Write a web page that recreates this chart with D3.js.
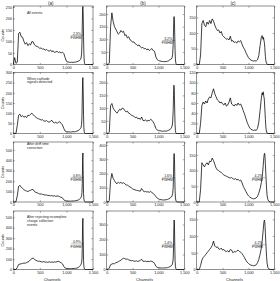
<!DOCTYPE html>
<html>
<head>
<meta charset="UTF-8">
<title>Spectra</title>
<script src="https://d3js.org/d3.v7.min.js"></script>
<style>
body{margin:0;background:#fff;}
text{font-family:"Liberation Sans",Arial,sans-serif;fill:#222;}
</style>
</head>
<body>
<script>
var W=280,H=281;

// channel axis (finer steps around the photopeak)
var channels=[0,25,50,75,100,125,150,175,200,225,250,275,300,325,350,375,400,425,450,475,
  500,525,550,575,600,625,650,675,700,725,750,775,800,825,850,875,900,925,950,975,
  1000,1025,1050,1075,1100,1125,1150,1175,1200,1225,
  1250,1265,1275,1285,1292,1298,1304,1310,1316,1322,1328,1335,1342,1350,1360,1375,1400,1430,1460,1500];
var xTicks=[0,500,1000,1500];
var colNames=["(a)","(b)","(c)"];

// row 1: all events
var a1=[0,30,5,10,135,140,120,118,100,88,95,82,90,85,100,98,85,80,78,75,70,72,66,68,62,66,60,58,63,55,60,52,55,57,52,55,50,54,48,30,14,11,10,9,10,9,10,11,12,15,
  18,22,28,45,90,170,240,252,210,120,50,15,5,1,0,0,0,0,0,0];
var b1=[0,0,5,150,205,170,150,140,130,120,125,135,128,132,115,118,105,110,98,95,88,90,82,80,74,78,70,66,68,62,64,58,62,55,60,63,55,52,30,20,16,14,13,12,12,11,12,13,15,20,
  22,28,40,80,140,185,190,165,110,55,22,8,2,0,0,0,0,0,0,0];
var c1=[0,0,0,30,130,140,125,120,135,128,140,130,145,138,125,115,108,110,100,105,92,88,85,80,82,78,90,74,76,70,72,68,75,72,76,65,55,48,38,30,22,17,14,12,11,12,11,15,28,60,
  88,92,84,80,86,78,74,66,55,40,26,15,8,4,1,0,0,0,0,0];
// row 2: cathode signals detected
var a2=[0,0,0,40,90,95,82,88,80,85,78,90,88,95,100,92,85,80,75,72,70,66,68,62,60,64,58,56,60,65,55,52,56,50,55,58,50,42,25,12,9,8,8,7,8,9,8,10,12,15,
  20,25,30,45,80,170,260,275,200,90,30,8,2,0,0,0,0,0,0,0];
var b2=[0,0,5,110,118,100,92,85,80,88,95,92,100,98,90,85,88,80,78,72,70,68,62,65,58,60,55,65,52,50,54,48,52,50,56,52,45,35,20,14,12,11,10,9,9,10,9,11,13,16,
  22,30,45,90,150,190,185,140,80,35,12,4,0,0,0,0,0,0,0,0];
var c2=[0,0,0,20,55,62,58,64,60,68,72,70,80,88,78,72,66,64,60,62,58,56,60,54,56,62,70,58,56,54,58,55,60,56,58,52,45,38,30,22,16,11,8,7,6,7,6,10,22,45,
  70,80,76,82,78,72,70,62,50,40,28,15,8,3,1,0,0,0,0,0];
// row 3: drift time correction
var a3=[0,0,2,60,150,160,140,130,118,110,105,100,108,112,120,118,100,92,88,82,76,78,72,70,66,68,62,64,58,62,56,60,54,58,56,50,45,40,22,12,10,9,9,8,9,10,10,12,15,20,
  28,35,45,60,90,180,400,470,260,80,30,12,5,2,0,0,0,0,0,0];
var b3=[0,0,10,150,200,165,150,135,128,140,132,138,130,135,128,120,118,112,105,100,92,88,85,82,80,78,76,95,80,72,75,70,72,68,74,66,60,50,38,28,22,18,16,15,14,15,16,18,22,28,
  35,45,60,100,200,320,340,300,180,80,35,15,6,2,0,0,0,0,0,0];
var c3=[0,0,0,40,125,118,112,120,125,118,130,128,140,132,120,108,102,100,96,94,90,86,84,82,80,78,76,78,74,72,75,70,72,68,70,62,50,42,34,26,20,16,13,11,10,11,13,18,28,42,
  62,80,95,115,130,142,150,155,152,140,120,95,70,45,22,8,1,0,0,0];
// row 4: incomplete charge collection rejected
var a4=[0,0,0,20,48,52,55,58,62,60,66,72,80,95,105,110,95,88,82,78,80,74,72,76,70,72,68,74,70,72,68,74,70,76,78,72,65,55,30,14,10,9,8,8,9,9,10,11,14,20,
  30,40,50,65,100,200,420,490,280,90,30,12,4,1,0,0,0,0,0,0];
var b4=[0,0,10,32,36,40,38,45,48,52,58,62,70,75,72,68,70,64,62,58,60,56,55,58,54,56,62,68,55,54,56,52,55,53,56,54,50,40,22,14,12,11,10,10,10,11,11,12,15,20,
  25,32,45,70,150,280,330,290,160,60,22,8,3,0,0,0,0,0,0,0];
var c4=[0,0,0,12,28,36,40,45,50,55,60,65,72,85,70,66,68,62,60,64,58,60,55,54,56,52,60,58,50,54,52,56,58,54,52,48,42,35,28,22,18,15,13,12,11,12,14,20,30,45,
  65,85,100,118,130,140,146,148,142,128,108,85,62,40,20,6,1,0,0,0];

var yMax=[[254,232,186],[300,240,120],[575,421,191],[560,390,175]];
var yTicks=[
  [[0,50,100,150,200,250],[0,50,100,150,200],[0,50,100,150]],
  [[0,50,100,150,200,250,300],[0,50,100,150,200],[0,20,40,60,80,100,120]],
  [[0,100,200,300,400,500],[0,100,200,300,400],[0,50,100,150]],
  [[0,100,200,300,400,500],[0,100,200,300],[0,50,100,150]]];
var notes=[["All events"],["When cathode","signals detected"],["After drift time","correction"],
  ["After rejecting incomplete","charge collection","events"]];
var fwhm=[["2.3%","3.2%",null],[null,null,null],["0.8%","1.6%","4.2%"],["0.9%","1.4%","4.2%"]];

var panels=[[a1,b1,c1],[a2,b2,c2],[a3,b3,c3],[a4,b4,c4]];
var colX=[[13.3,93],[106.7,184.3],[196.7,274.3]];
var rowY=[[6,64.5],[72.5,133.5],[142,202],[211,269.5]];
var noteY=[13.5,79.5,145,218];

var svg=d3.select("body").append("svg").attr("width",W).attr("height",H);

function styleAxis(sel,labels){
  sel.attr("font-size",3.8).attr("font-family","Liberation Sans, Arial, sans-serif");
  sel.select(".domain").remove();
  sel.selectAll(".tick line").attr("stroke","#222").attr("stroke-width",0.4);
  sel.selectAll(".tick text").attr("fill","#222");
  if(!labels) sel.selectAll(".tick text").remove();
}

panels.forEach(function(row,r){
  row.forEach(function(vals,c){
    var x=d3.scaleLinear().domain([0,1500]).range(colX[c]);
    var y=d3.scaleLinear().domain([0,yMax[r][c]]).range([rowY[r][1],rowY[r][0]]);
    var g=svg.append("g");

    g.append("g").attr("transform","translate(0,"+rowY[r][1]+")")
      .call(d3.axisBottom(x).tickValues(xTicks).tickSize(-1.6).tickPadding(1.4))
      .call(styleAxis,true);
    g.append("g").attr("transform","translate(0,"+rowY[r][0]+")")
      .call(d3.axisTop(x).tickValues(xTicks).tickSize(-1.6))
      .call(styleAxis,false);
    g.append("g").attr("transform","translate("+colX[c][0]+",0)")
      .call(d3.axisLeft(y).tickValues(yTicks[r][c]).tickSize(-1.6).tickPadding(1.2))
      .call(styleAxis,true);
    g.append("g").attr("transform","translate("+colX[c][1]+",0)")
      .call(d3.axisRight(y).tickValues(yTicks[r][c]).tickSize(-1.6))
      .call(styleAxis,false);

    g.append("rect")
      .attr("x",colX[c][0]).attr("y",rowY[r][0])
      .attr("width",colX[c][1]-colX[c][0]).attr("height",rowY[r][1]-rowY[r][0])
      .attr("fill","none").attr("stroke","#222").attr("stroke-width",0.5);

    var line=d3.line()
      .x(function(d,i){return x(channels[i]);})
      .y(function(d){return y(d);});
    g.append("path").datum(vals)
      .attr("d",line)
      .attr("fill","none")
      .attr("stroke","#000")
      .attr("stroke-width",0.75);

    if(fwhm[r][c]){
      var iMax=d3.maxIndex(vals,function(d,i){return channels[i]>=1240?d:-1;});
      var px=x(channels[iMax]);
      var hy=y(vals[iMax]/2);
      g.append("line")
        .attr("x1",px-12).attr("x2",px+1)
        .attr("y1",hy).attr("y2",hy)
        .attr("stroke","#222").attr("stroke-width",0.3);
      g.append("text").attr("x",px-2).attr("y",hy-0.8)
        .attr("text-anchor","end").attr("font-size",3.5).text(fwhm[r][c]);
      g.append("text").attr("x",px-1.5).attr("y",hy+3.6)
        .attr("text-anchor","end").attr("font-size",3.5).text("FWHM");
    }

    if(c==0){
      g.append("text")
        .attr("transform","translate(4,"+((rowY[r][0]+rowY[r][1])/2)+") rotate(-90)")
        .attr("text-anchor","middle").attr("font-size",4).text("Counts");
      g.selectAll(".note").data(notes[r]).enter().append("text")
        .attr("class","note")
        .attr("x",27).attr("y",function(d,i){return noteY[r]+i*3.9;})
        .attr("font-size",3.5).text(function(d){return d;});
    }
    if(r==0){
      g.append("text").attr("x",(colX[c][0]+colX[c][1])/2-2.5).attr("y",5)
        .attr("text-anchor","middle").attr("font-size",4.5).text(colNames[c]);
    }
    if(r==panels.length-1){
      g.append("text").attr("x",(colX[c][0]+colX[c][1])/2-1).attr("y",280.5)
        .attr("text-anchor","middle").attr("font-size",4).text("Channels");
    }
  });
});
</script>
</body>
</html>
